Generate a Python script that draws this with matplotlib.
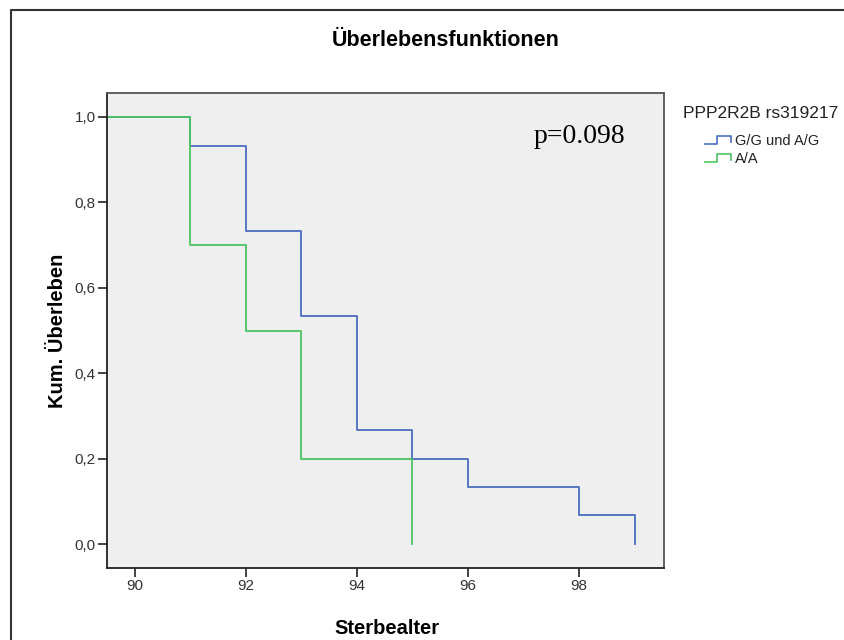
# Kaplan-Meier style survival curves (SPSS look) for PPP2R2B rs319217

import matplotlib.pyplot as plt
from matplotlib.lines import Line2D

# data
age_gg_ag = [89, 91, 92, 93, 94, 95, 96, 98, 99]
surv_gg_ag = [1.0, 0.933, 0.733, 0.533, 0.267, 0.2, 0.133, 0.067, 0.0]
age_aa = [89, 91, 92, 93, 95]
surv_aa = [1.0, 0.7, 0.5, 0.2, 0.0]

x_ticks = [90, 92, 94, 96, 98]
y_ticks = [0.0, 0.2, 0.4, 0.6, 0.8, 1.0]
y_ticklabels = ["0,0", "0,2", "0,4", "0,6", "0,8", "1,0"]

blue = "#4a6cc0"
green = "#4cc460"

plt.rcParams["font.family"] = ["Liberation Sans", "DejaVu Sans"]

W, H = 845, 640
fig = plt.figure(figsize=(W / 100, H / 100), dpi=100)


def fx(px):
    return px / W


def fy(py):
    return 1 - py / H


ax = fig.add_axes([fx(107), fy(568), fx(664) - fx(107), fy(93) - fy(568)])
ax.set_facecolor("#efefef")

ax.step(age_gg_ag, surv_gg_ag, where="post", color=blue, lw=1.3)
ax.step(age_aa, surv_aa, where="post", color=green, lw=1.3)

ax.set_xlim(89.5, 99.53)
ax.set_ylim(-0.056, 1.056)
ax.set_xticks(x_ticks)
ax.set_yticks(y_ticks)
ax.set_yticklabels(y_ticklabels)
ax.tick_params(direction="out", length=6.5, width=1.2, colors="#222222",
               labelsize=11, labelcolor="#333333", pad=1.5)
for side, sp in ax.spines.items():
    sp.set_linewidth(1.3)
    sp.set_color("#222222" if side in ("left", "bottom") else "#555555")

ax.set_xlabel("Sterbealter", fontsize=14.5, fontweight="bold")
ax.set_ylabel("Kum. Überleben", fontsize=14.5, fontweight="bold")
ax.xaxis.set_label_coords(0.503, -0.107)
ax.yaxis.set_label_coords(-0.072, 0.5)

ax.text(98.0, 0.953, "p=0.098", family=["Liberation Serif", "DejaVu Serif"],
        fontsize=20, ha="center", va="center")

fig.text(fx(446), fy(40), "Überlebensfunktionen", fontsize=15.5,
         fontweight="bold", ha="center", va="center")

# legend drawn by hand to get the SPSS step glyphs
fig.text(fx(683), fy(113), "PPP2R2B rs319217", fontsize=12.5,
         ha="left", va="center", color="#222222")
for yc, col, lab in [(141, blue, "G/G und A/G"), (159, green, "A/A")]:
    gx = [705, 717, 717, 731, 731]
    gy = [yc + 3, yc + 3, yc - 5, yc - 5, yc + 1]
    fig.add_artist(Line2D([fx(v) for v in gx], [fy(v) for v in gy],
                          color=col, lw=1.2))
    fig.text(fx(735), fy(yc), lab, fontsize=10.5, ha="left", va="center",
             color="#222222")

# outer frame (top and left only)
fig.add_artist(Line2D([fx(11), fx(11), fx(845)], [fy(640), fy(10), fy(10)],
                      color="#333333", lw=1.5))

fig.savefig("out.png", dpi=100)
